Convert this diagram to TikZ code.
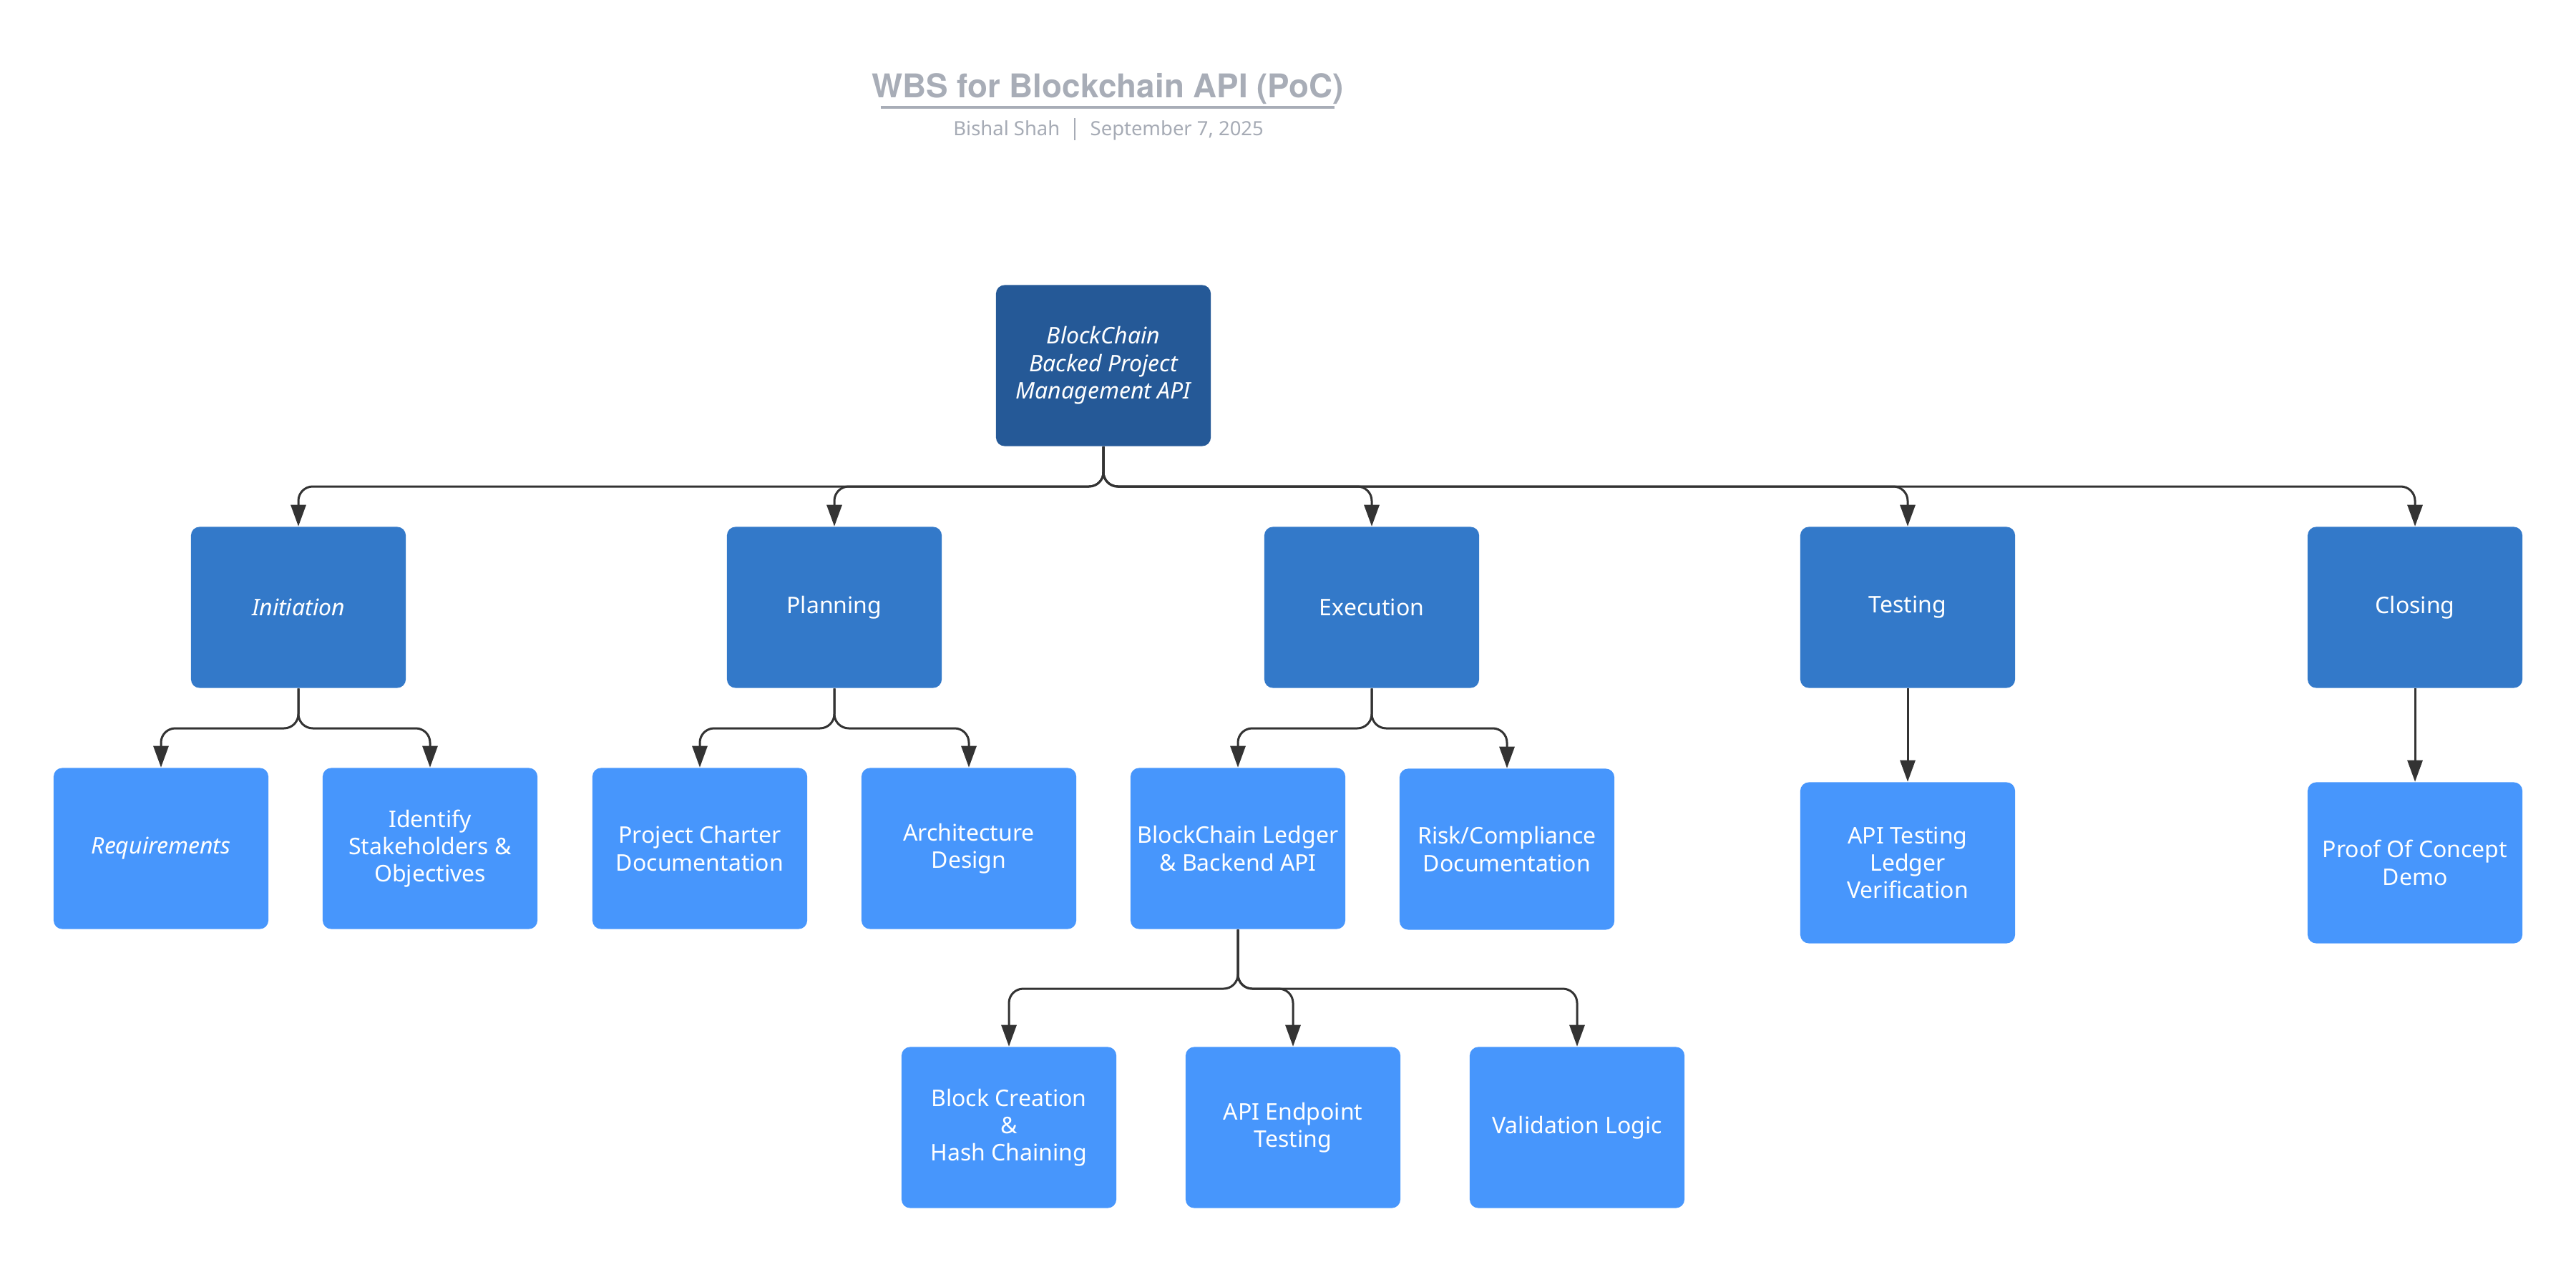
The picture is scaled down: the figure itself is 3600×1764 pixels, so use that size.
\documentclass[tikz,border=0pt]{standalone}
\usepackage{fontspec}
\setmainfont{Noto Sans}
\newfontfamily\titlefont{TeX Gyre Heros}
\usetikzlibrary{arrows.meta,calc}
\definecolor{rootblue}{RGB}{37,89,151}
\definecolor{midblue}{RGB}{51,121,201}
\definecolor{leafblue}{RGB}{71,150,252}
\definecolor{linegray}{RGB}{51,51,51}
\definecolor{titlegray}{RGB}{168,173,183}
\definecolor{subgray}{RGB}{166,171,181}
\begin{document}
\begin{tikzpicture}[x=0.01cm,y=-0.01cm,
  box/.style={rectangle, rounded corners=0.12cm, minimum width=3cm, minimum height=2.25cm,
    align=center, text=white, inner sep=0pt, font=\fontsize{9.1pt}{10.9pt}\selectfont},
  rootbox/.style={box, fill=rootblue, font=\fontsize{9.1pt}{10.9pt}\selectfont\itshape},
  midbox/.style={box, fill=midblue},
  leafbox/.style={box, fill=leafblue},
  ital/.style={font=\fontsize{9.1pt}{10.9pt}\selectfont\itshape},
  conn/.style={draw=linegray, line width=0.03cm, rounded corners=0.2cm,
    -{Triangle[length=0.3cm,width=0.21cm]}},
  titletext/.style={text=titlegray, inner sep=0pt, font=\titlefont\bfseries\fontsize{13pt}{15pt}\selectfont},
  subtext/.style={text=subgray, inner sep=0pt, font=\fontsize{7.8pt}{9pt}\selectfont}
]
\fill[white] (0,0) rectangle (3600,1764);
\useasboundingbox (0,0) rectangle (3600,1764);

% title block
\node[titletext, anchor=base] (title) at (1548,137) {WBS for Blockchain API (PoC)};
\draw[titlegray, line width=0.04cm] ($(title.base west)+(13,13)$) -- ($(title.base east)+(-13,13)$);
\node[subtext, anchor=base east] (author) at (1482,190) {Bishal Shah};
\node[subtext, anchor=base west] (date) at (1523,190) {September 7, 2025};
\draw[subgray, line width=0.02cm] (1502,165) -- (1502,196);

% nodes
\node[rootbox] (root) at (1542,511) {BlockChain\\Backed Project\\Management API};

\node[midbox, ital] (init)  at (417,849)  {Initiation};
\node[midbox] (plan)  at (1166,849) {Planning};
\node[midbox] (exec)  at (1917,849) {Execution};
\node[midbox] (test)  at (2666,849) {Testing};
\node[midbox] (close) at (3375,849) {Closing};

\node[leafbox, ital] (req) at (225,1186) {Requirements};
\node[leafbox] (ident) at (601,1186) {Identify\\Stakeholders \&\\Objectives};
\node[leafbox] (charter) at (978,1186) {Project Charter\\Documentation};
\node[leafbox] (arch) at (1354,1186) {Architecture\\Design};
\node[leafbox] (ledger) at (1730,1186) {BlockChain Ledger\\\& Backend API};
\node[leafbox] (risk) at (2106,1187) {Risk/Compliance\\Documentation};
\node[leafbox] (apitest) at (2666,1206) {API Testing\\Ledger\\Verification};
\node[leafbox] (poc) at (3375,1206) {Proof Of Concept\\Demo};

\node[leafbox] (block) at (1410,1576) {Block Creation\\\&\\Hash Chaining};
\node[leafbox] (endpoint) at (1807,1576) {API Endpoint\\Testing};
\node[leafbox] (valid) at (2204,1576) {Validation Logic};

% bus levels
\coordinate (b1) at (0,680);
\coordinate (b2) at (0,1018);
\coordinate (b3) at (0,1382);

% connectors
\foreach \c in {init,plan,exec,test,close}
  \draw[conn] (root.south) -- (root.south |- b1) -| (\c.north);
\foreach \c in {req,ident}
  \draw[conn] (init.south) -- (init.south |- b2) -| (\c.north);
\foreach \c in {charter,arch}
  \draw[conn] (plan.south) -- (plan.south |- b2) -| (\c.north);
\foreach \c in {ledger,risk}
  \draw[conn] (exec.south) -- (exec.south |- b2) -| (\c.north);
\foreach \c in {block,endpoint,valid}
  \draw[conn] (ledger.south) -- (ledger.south |- b3) -| (\c.north);
\draw[conn] (test.south) -- (apitest.north);
\draw[conn] (close.south) -- (poc.north);
\end{tikzpicture}
\end{document}
